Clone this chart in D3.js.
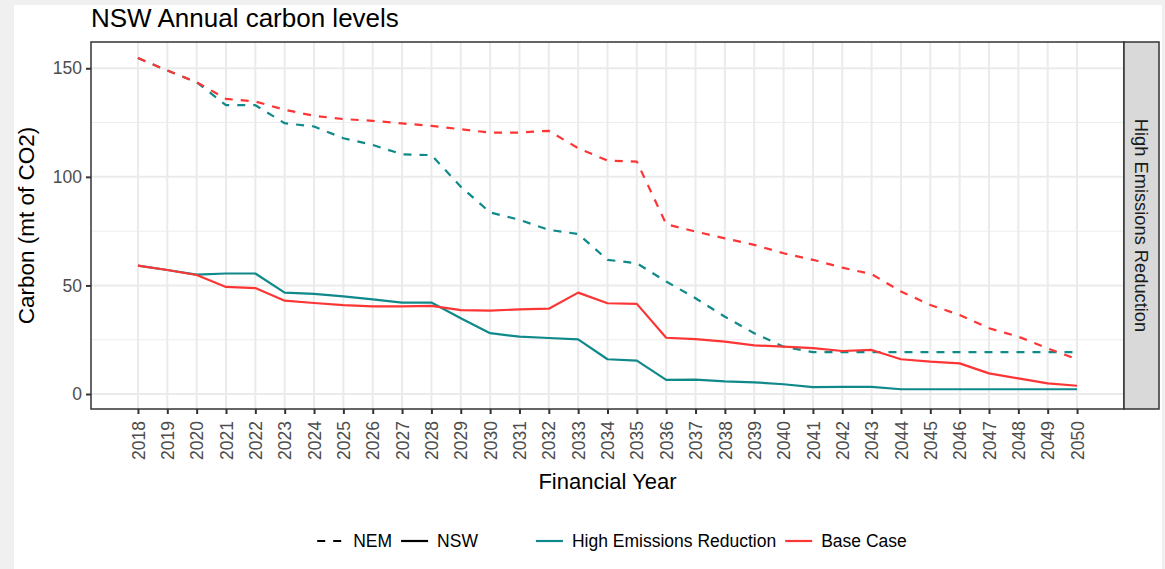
<!DOCTYPE html>
<html><head><meta charset="utf-8">
<script src="https://cdn.jsdelivr.net/npm/d3@7"></script>
<style>
html,body{margin:0;padding:0;background:#f0f0f0;}
svg{display:block;font-family:"Liberation Sans",Arial,Helvetica,sans-serif;}
</style></head>
<body>
<svg id="chart" width="1165" height="569"></svg>
<script>
const years = d3.range(2018, 2051);
const yTicks = [0, 50, 100, 150];
const yMinor = [25, 75, 125];
const scenarios = ["High Emissions Reduction", "Base Case"];
const regions = ["NEM", "NSW"];
const nswHighEmissions = [59.1,57.1,55.0,55.5,55.5,46.7,46.1,45.0,43.6,42.1,42.1,34.9,28.0,26.4,25.8,25.2,16.0,15.4,6.5,6.6,5.8,5.4,4.5,3.2,3.3,3.3,2.2,2.2,2.2,2.2,2.2,2.2,2.2];
const nswBaseCase = [59.1,57.1,54.8,49.3,48.8,43.0,41.9,40.9,40.4,40.4,40.6,38.6,38.4,39.0,39.3,46.7,41.8,41.5,25.9,25.3,24.1,22.4,21.8,21.1,19.8,20.3,16.0,14.9,14.1,9.5,7.2,4.9,3.8];
const nemHighEmissions = [154.7,149.0,143.6,133.0,133.0,124.7,123.2,117.8,114.7,110.4,110.0,95.5,83.6,80.2,75.6,73.7,61.8,60.2,51.8,44.1,35.6,28.0,21.8,19.3,19.3,19.3,19.3,19.3,19.3,19.3,19.3,19.3,19.3];
const nemBaseCase = [154.7,149.0,143.6,135.9,134.7,130.9,128.1,126.6,125.8,124.6,123.5,121.9,120.4,120.4,121.2,113.2,107.5,107.0,78.2,74.8,71.7,68.7,64.8,61.8,58.2,55.2,47.2,41.0,36.4,30.3,26.4,21.0,16.0];

const series = [
  {region:"NEM", scenario:"High Emissions Reduction", values:nemHighEmissions},
  {region:"NSW", scenario:"High Emissions Reduction", values:nswHighEmissions},
  {region:"NEM", scenario:"Base Case", values:nemBaseCase},
  {region:"NSW", scenario:"Base Case", values:nswBaseCase}
];

const colour = d3.scaleOrdinal().domain(scenarios).range(["#10898a", "#fd3535"]);
const dash = d3.scaleOrdinal().domain(regions).range(["8,8", null]);

const svg = d3.select("#chart");
svg.append("rect").attr("x",14).attr("y",5).attr("width",1148).attr("height",564).attr("fill","#ffffff");

const P = {l:91, t:42, r:1124, b:409};
const x = d3.scaleLinear().domain([2016.4, 2051.6]).range([P.l, P.r]);
const y = d3.scaleLinear().domain([-6.9, 162.1]).range([P.b, P.t]);

// grid
const g = svg.append("g");
g.selectAll(".ymin").data(yMinor).join("line")
  .attr("x1",P.l).attr("x2",P.r).attr("y1",d=>y(d)).attr("y2",d=>y(d))
  .attr("stroke","#ededed").attr("stroke-width",1);
g.selectAll(".ymaj").data(yTicks).join("line")
  .attr("x1",P.l).attr("x2",P.r).attr("y1",d=>y(d)).attr("y2",d=>y(d))
  .attr("stroke","#ebebeb").attr("stroke-width",2);
g.selectAll(".xmaj").data(years).join("line")
  .attr("y1",P.t).attr("y2",P.b).attr("x1",d=>x(d)).attr("x2",d=>x(d))
  .attr("stroke","#ebebeb").attr("stroke-width",2);

// lines
const line = d3.line().x((d,i)=>x(years[i])).y(d=>y(d));
svg.append("g").selectAll("path").data(series).join("path")
  .attr("d", d=>line(d.values))
  .attr("fill","none")
  .attr("stroke", d=>colour(d.scenario))
  .attr("stroke-width",2.2)
  .attr("stroke-dasharray", d=>dash(d.region))
  .attr("stroke-linejoin","round");

// panel border
svg.append("rect").attr("x",P.l).attr("y",P.t).attr("width",P.r-P.l).attr("height",P.b-P.t)
  .attr("fill","none").attr("stroke","#333333").attr("stroke-width",1.5);

// strip
const S = {l:1124, r:1159};
svg.append("rect").attr("x",S.l).attr("y",P.t).attr("width",S.r-S.l).attr("height",P.b-P.t)
  .attr("fill","#d9d9d9").attr("stroke","#333333").attr("stroke-width",1.5);
svg.append("text").attr("transform",`translate(${(S.l+S.r)/2},${(P.t+P.b)/2}) rotate(90)`)
  .attr("text-anchor","middle").attr("dy","0.35em").attr("font-size",18.3).attr("fill","#1a1a1a")
  .text(scenarios[0]);

// axes
const xAxis = d3.axisBottom(x).tickValues(years).tickFormat(d3.format("d")).tickSize(5).tickPadding(4);
const xg = svg.append("g").attr("transform",`translate(0,${P.b})`).call(xAxis);
xg.select(".domain").remove();
xg.selectAll(".tick line").attr("stroke","#333333").attr("stroke-width",2);
xg.selectAll(".tick text").attr("fill","#4d4d4d").attr("font-size",17.5)
  .attr("font-family","'Liberation Sans',Arial,sans-serif")
  .attr("text-anchor","end").attr("transform","rotate(-90)")
  .attr("x",-12).attr("y",0).attr("dy","0.35em");

const yAxis = d3.axisLeft(y).tickValues(yTicks).tickSize(5).tickPadding(4);
const yg = svg.append("g").attr("transform",`translate(${P.l},0)`).call(yAxis);
yg.select(".domain").remove();
yg.selectAll(".tick line").attr("stroke","#333333").attr("stroke-width",2);
yg.selectAll(".tick text").attr("fill","#4d4d4d").attr("font-size",17.5)
  .attr("font-family","'Liberation Sans',Arial,sans-serif");

// titles
svg.append("text").attr("x",P.l).attr("y",27).attr("font-size",26).attr("fill","#000")
  .text("NSW Annual carbon levels");
svg.append("text").attr("x",(P.l+P.r)/2).attr("y",489).attr("text-anchor","middle")
  .attr("font-size",22).attr("fill","#000").text("Financial Year");
svg.append("text").attr("transform",`translate(34,${(P.t+P.b)/2}) rotate(-90)`)
  .attr("text-anchor","middle").attr("font-size",22.5).attr("fill","#000").text("Carbon (mt of CO2)");

// legend
const leg = svg.append("g");
const ly = 541;
const items = [
  ...regions.map(r=>({label:r, stroke:"#000", dash:dash(r), group:0})),
  ...scenarios.map(s=>({label:s, stroke:colour(s), dash:null, group:1}))
];
let cx = 0;
items.forEach((it,i)=>{
  if(i>0){ cx += (items[i-1].group!==it.group) ? 58 : 9; }
  const gi = leg.append("g");
  gi.append("line").attr("x1",cx).attr("x2",cx+27).attr("y1",ly).attr("y2",ly)
    .attr("stroke",it.stroke).attr("stroke-width",2.2).attr("stroke-dasharray",it.dash);
  const t = gi.append("text").attr("x",cx+36).attr("y",ly).attr("dy","0.35em")
    .attr("font-size",17.5).attr("fill","#000").text(it.label);
  cx += 36 + t.node().getComputedTextLength();
});
leg.attr("transform",`translate(${612 - cx/2},0)`);
</script>
</body></html>
